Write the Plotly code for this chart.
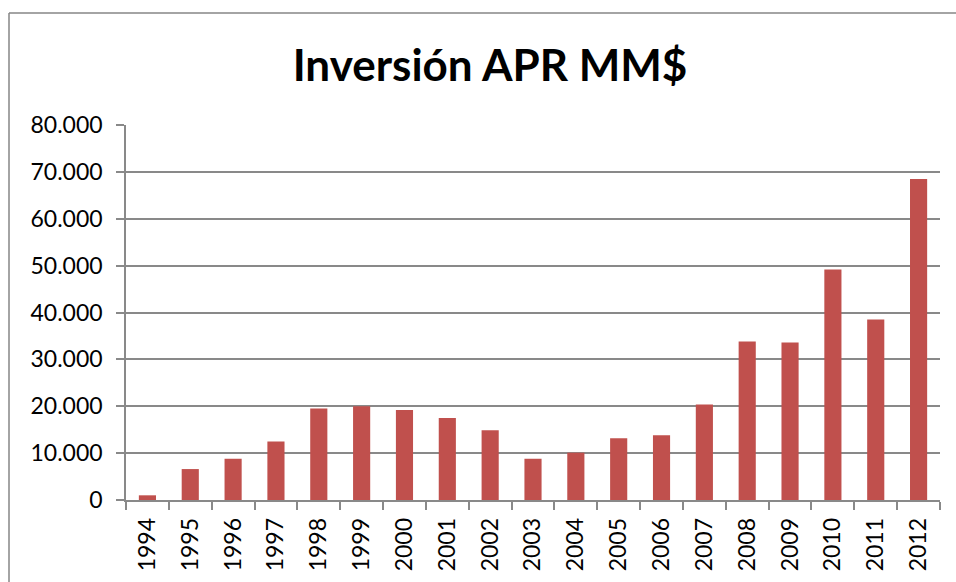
import plotly.graph_objects as go

years = [str(y) for y in range(1994, 2013)]
inversion = [1000, 6600, 8800, 12500, 19500, 20000, 19200, 17500, 14900, 8800,
             10100, 13200, 13800, 20400, 33800, 33600, 49200, 38500, 68500]
y_ticks = [0, 10000, 20000, 30000, 40000, 50000, 60000, 70000, 80000]

W, H = 956, 582
L, T = 126, 125
R, B = W - 940, H - 500
pw, ph = W - L - R, H - T - B


def px(xp):
    return (xp - L) / pw


def py(yp):
    return (H - B - yp) / ph


fig = go.Figure(go.Bar(x=years, y=inversion, marker_color="#C0504D",
                       marker_line_width=0, width=0.4))

grid = "#898989"
border = dict(color="#868686", width=1.5)
fig.update_layout(
    width=W, height=H,
    margin=dict(l=L, r=R, t=T, b=B),
    paper_bgcolor="white", plot_bgcolor="white",
    separators=",.",
    showlegend=False,
    title=dict(text="<b>Inversión APR MM$</b>", x=490 / W, xref="container",
               xanchor="center", y=1 - 65.5 / H, yref="container", yanchor="middle",
               font=dict(family="Lato", size=44, color="black")),
    font=dict(family="Lato", size=23, color="black"),
    xaxis=dict(type="category", tickson="boundaries", ticks="outside", ticklen=8,
               tickcolor=grid, tickwidth=1.5, showline=True, linecolor=grid, linewidth=1.5,
               tickangle=-90, showgrid=False, ticklabelstandoff=7,
               tickfont=dict(size=23)),
    yaxis=dict(range=[0, 80000], tickvals=y_ticks, tickformat=",d", ticks="outside",
               ticklen=8, tickcolor=grid, tickwidth=1.5, showline=True, linecolor=grid,
               linewidth=1.5, showgrid=True, gridcolor=grid, gridwidth=1.5,
               zeroline=False, ticklabelstandoff=9, tickfont=dict(size=23)),
    shapes=[
        dict(type="line", xref="paper", yref="paper", x0=px(9), x1=px(9),
             y0=py(13), y1=py(620), line=border, layer="below"),
        dict(type="line", xref="paper", yref="paper", x0=px(9), x1=px(1000),
             y0=py(13), y1=py(13), line=border, layer="below"),
    ],
)

fig.write_html(
    "out.html",
    config={"displayModeBar": False},
    post_script=("document.body.style.margin='0';"
                 "document.body.style.overflow='hidden';"
                 "document.documentElement.style.overflow='hidden';"),
)
